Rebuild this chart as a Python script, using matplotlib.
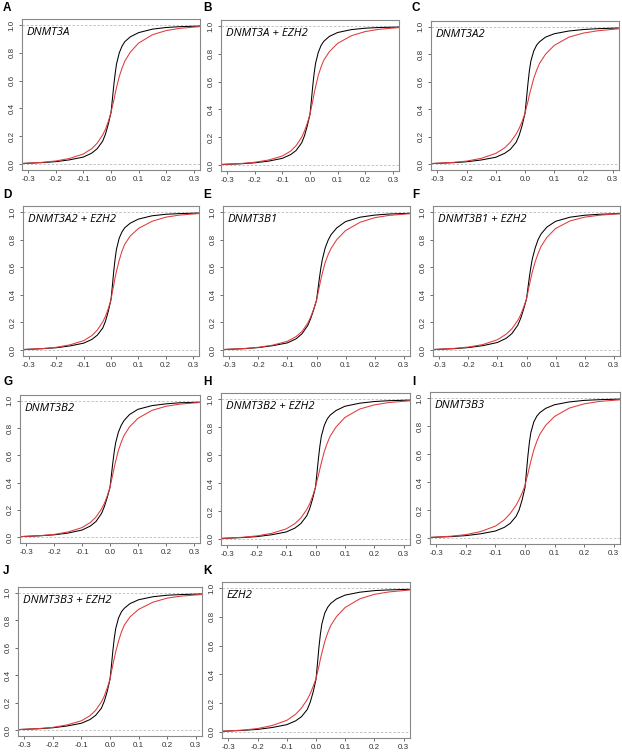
import numpy as np
import matplotlib.pyplot as plt

# ===== данные: значения ECDF =====
x_grid = [-0.32, -0.25, -0.2, -0.15, -0.1, -0.07, -0.05, -0.03, -0.02, -0.01,
          0.0, 0.005, 0.01, 0.015, 0.02, 0.03, 0.04, 0.05, 0.07, 0.1,
          0.15, 0.2, 0.25, 0.32]

panel_letters = ["A", "B", "C", "D", "E", "F", "G", "H", "I", "J", "K"]
panel_titles = ["DNMT3A", "DNMT3A + EZH2", "DNMT3A2", "DNMT3A2 + EZH2",
                "DNMT3B1", "DNMT3B1 + EZH2", "DNMT3B2", "DNMT3B2 + EZH2",
                "DNMT3B3", "DNMT3B3 + EZH2", "EZH2"]

black_A = [0.004, 0.010, 0.017, 0.030, 0.050, 0.078, 0.110, 0.165, 0.215, 0.285, 0.370, 0.465, 0.565, 0.650, 0.720, 0.800, 0.848, 0.880, 0.915, 0.945, 0.970, 0.982, 0.988, 0.992]
red_A = [0.004, 0.012, 0.022, 0.040, 0.072, 0.110, 0.150, 0.210, 0.250, 0.305, 0.370, 0.415, 0.455, 0.505, 0.550, 0.630, 0.690, 0.740, 0.805, 0.870, 0.930, 0.960, 0.976, 0.988]
black_B = [0.004, 0.009, 0.016, 0.028, 0.048, 0.075, 0.105, 0.160, 0.210, 0.280, 0.365, 0.465, 0.570, 0.660, 0.730, 0.810, 0.860, 0.890, 0.925, 0.953, 0.974, 0.984, 0.989, 0.992]
red_B = [0.004, 0.011, 0.020, 0.036, 0.065, 0.100, 0.140, 0.200, 0.245, 0.300, 0.365, 0.415, 0.460, 0.515, 0.560, 0.645, 0.705, 0.755, 0.815, 0.875, 0.930, 0.960, 0.976, 0.988]
black_C = [0.004, 0.010, 0.017, 0.030, 0.050, 0.078, 0.108, 0.160, 0.210, 0.280, 0.370, 0.475, 0.585, 0.680, 0.750, 0.825, 0.868, 0.892, 0.925, 0.950, 0.970, 0.981, 0.987, 0.992]
red_C = [0.004, 0.012, 0.022, 0.042, 0.078, 0.118, 0.160, 0.220, 0.260, 0.310, 0.370, 0.415, 0.455, 0.505, 0.545, 0.625, 0.685, 0.735, 0.800, 0.865, 0.925, 0.955, 0.972, 0.986]
black_D = [0.004, 0.010, 0.017, 0.030, 0.050, 0.077, 0.108, 0.160, 0.210, 0.280, 0.365, 0.465, 0.570, 0.660, 0.730, 0.810, 0.855, 0.885, 0.918, 0.948, 0.972, 0.983, 0.988, 0.992]
red_D = [0.004, 0.011, 0.020, 0.038, 0.068, 0.105, 0.145, 0.205, 0.245, 0.300, 0.365, 0.420, 0.470, 0.525, 0.570, 0.650, 0.715, 0.765, 0.825, 0.880, 0.932, 0.962, 0.977, 0.988]
black_E = [0.004, 0.010, 0.018, 0.032, 0.052, 0.082, 0.118, 0.178, 0.228, 0.290, 0.360, 0.440, 0.520, 0.595, 0.655, 0.740, 0.795, 0.835, 0.885, 0.930, 0.962, 0.977, 0.985, 0.990]
red_E = [0.004, 0.011, 0.020, 0.036, 0.064, 0.098, 0.135, 0.195, 0.240, 0.295, 0.360, 0.410, 0.460, 0.510, 0.555, 0.635, 0.690, 0.735, 0.800, 0.865, 0.925, 0.958, 0.975, 0.987]
black_F = [0.004, 0.010, 0.018, 0.032, 0.055, 0.085, 0.120, 0.180, 0.230, 0.295, 0.370, 0.450, 0.530, 0.600, 0.660, 0.740, 0.800, 0.840, 0.890, 0.932, 0.962, 0.976, 0.983, 0.988]
red_F = [0.004, 0.012, 0.022, 0.040, 0.075, 0.115, 0.155, 0.215, 0.255, 0.310, 0.370, 0.420, 0.470, 0.520, 0.565, 0.640, 0.700, 0.750, 0.815, 0.880, 0.935, 0.962, 0.976, 0.987]
black_G = [0.004, 0.010, 0.017, 0.030, 0.052, 0.082, 0.115, 0.175, 0.225, 0.290, 0.365, 0.455, 0.545, 0.625, 0.690, 0.770, 0.820, 0.855, 0.900, 0.938, 0.965, 0.978, 0.986, 0.990]
red_G = [0.004, 0.011, 0.020, 0.038, 0.070, 0.108, 0.148, 0.208, 0.248, 0.302, 0.365, 0.415, 0.460, 0.510, 0.555, 0.635, 0.695, 0.745, 0.810, 0.872, 0.930, 0.960, 0.976, 0.988]
black_H = [0.004, 0.010, 0.017, 0.030, 0.050, 0.078, 0.110, 0.165, 0.215, 0.285, 0.370, 0.470, 0.575, 0.665, 0.735, 0.812, 0.858, 0.885, 0.918, 0.948, 0.970, 0.982, 0.988, 0.992]
red_H = [0.004, 0.012, 0.022, 0.040, 0.072, 0.110, 0.150, 0.210, 0.250, 0.305, 0.370, 0.415, 0.455, 0.500, 0.545, 0.625, 0.685, 0.735, 0.800, 0.868, 0.928, 0.958, 0.975, 0.987]
black_I = [0.004, 0.010, 0.017, 0.030, 0.050, 0.076, 0.105, 0.155, 0.200, 0.270, 0.360, 0.475, 0.590, 0.685, 0.755, 0.830, 0.870, 0.895, 0.926, 0.952, 0.972, 0.983, 0.988, 0.992]
red_I = [0.004, 0.013, 0.024, 0.046, 0.085, 0.130, 0.175, 0.235, 0.275, 0.320, 0.375, 0.420, 0.460, 0.505, 0.550, 0.630, 0.690, 0.740, 0.805, 0.868, 0.928, 0.958, 0.975, 0.987]
black_J = [0.004, 0.010, 0.017, 0.030, 0.050, 0.077, 0.108, 0.160, 0.210, 0.280, 0.370, 0.470, 0.578, 0.670, 0.740, 0.818, 0.862, 0.888, 0.922, 0.950, 0.972, 0.983, 0.988, 0.992]
red_J = [0.004, 0.011, 0.020, 0.038, 0.068, 0.105, 0.145, 0.205, 0.248, 0.305, 0.370, 0.425, 0.475, 0.525, 0.570, 0.650, 0.715, 0.765, 0.825, 0.880, 0.932, 0.962, 0.977, 0.988]
black_K = [0.004, 0.010, 0.017, 0.030, 0.050, 0.076, 0.105, 0.155, 0.205, 0.275, 0.365, 0.475, 0.588, 0.680, 0.750, 0.826, 0.867, 0.893, 0.925, 0.952, 0.972, 0.983, 0.988, 0.992]
red_K = [0.004, 0.012, 0.023, 0.044, 0.080, 0.122, 0.165, 0.225, 0.265, 0.315, 0.370, 0.415, 0.455, 0.505, 0.548, 0.628, 0.688, 0.738, 0.802, 0.866, 0.926, 0.957, 0.974, 0.987]

black_curves = [black_A, black_B, black_C, black_D, black_E, black_F,
                black_G, black_H, black_I, black_J, black_K]
red_curves = [red_A, red_B, red_C, red_D, red_E, red_F,
              red_G, red_H, red_I, red_J, red_K]

# положение панелей в пикселях: left, top, right, bottom
W, H = 622, 754
boxes = [(22, 19, 200, 170), (221, 20, 399, 171), (431, 21, 619, 170),
         (23, 206, 199, 356), (223, 206, 410, 356), (433, 206, 620, 356),
         (20, 395, 200, 543), (221, 393, 410, 545), (430, 392, 620, 544),
         (18, 587, 202, 736), (222, 582, 410, 738)]
letter_pos = [(3, 8), (203, 8), (412, 8), (3, 195), (203, 195), (412, 195),
              (3, 382), (203, 382), (412, 382), (3, 571), (203, 571)]

plt.rcParams['font.family'] = ['Liberation Sans', 'DejaVu Sans']
fig = plt.figure(figsize=(W / 100, H / 100), dpi=100)

for i in range(len(panel_titles)):
    l, t, r, b = boxes[i]
    ax = fig.add_axes([l / W, 1 - b / H, (r - l) / W, (b - t) / H])
    ax.axhline(0, color='#bbbbbb', ls=(0, (3, 2)), lw=0.6)
    ax.axhline(1, color='#bbbbbb', ls=(0, (3, 2)), lw=0.6)
    ax.plot(x_grid, black_curves[i], color='black', lw=0.75)
    ax.plot(x_grid, red_curves[i], color='#e0393a', lw=0.75)
    ax.set_xlim(-0.322, 0.322)
    ax.set_ylim(-0.043, 1.043)
    ax.set_xticks([-0.3, -0.2, -0.1, 0.0, 0.1, 0.2, 0.3])
    ax.set_yticks([0.0, 0.2, 0.4, 0.6, 0.8, 1.0])
    ax.set_xticklabels(['-0.3', '-0.2', '-0.1', '0.0', '0.1', '0.2', '0.3'])
    ax.set_yticklabels(['0.0', '0.2', '0.4', '0.6', '0.8', '1.0'],
                       rotation=90, va='center')
    ax.tick_params(labelsize=5.8, length=2.5, width=0.6, pad=2,
                   colors='#555555', labelcolor='#333333')
    for sp in ax.spines.values():
        sp.set_color('#888888')
        sp.set_linewidth(0.8)
    ax.text(5 / (r - l), 1 - 16 / (b - t), panel_titles[i], transform=ax.transAxes,
            fontsize=8.2, style='italic', family='Open Sans', color='black')
    lx, ly = letter_pos[i]
    fig.text(lx / W, 1 - ly / H, panel_letters[i], fontsize=8.5,
             fontweight='bold', va='center', ha='left')

plt.savefig('out.png', dpi=100)
